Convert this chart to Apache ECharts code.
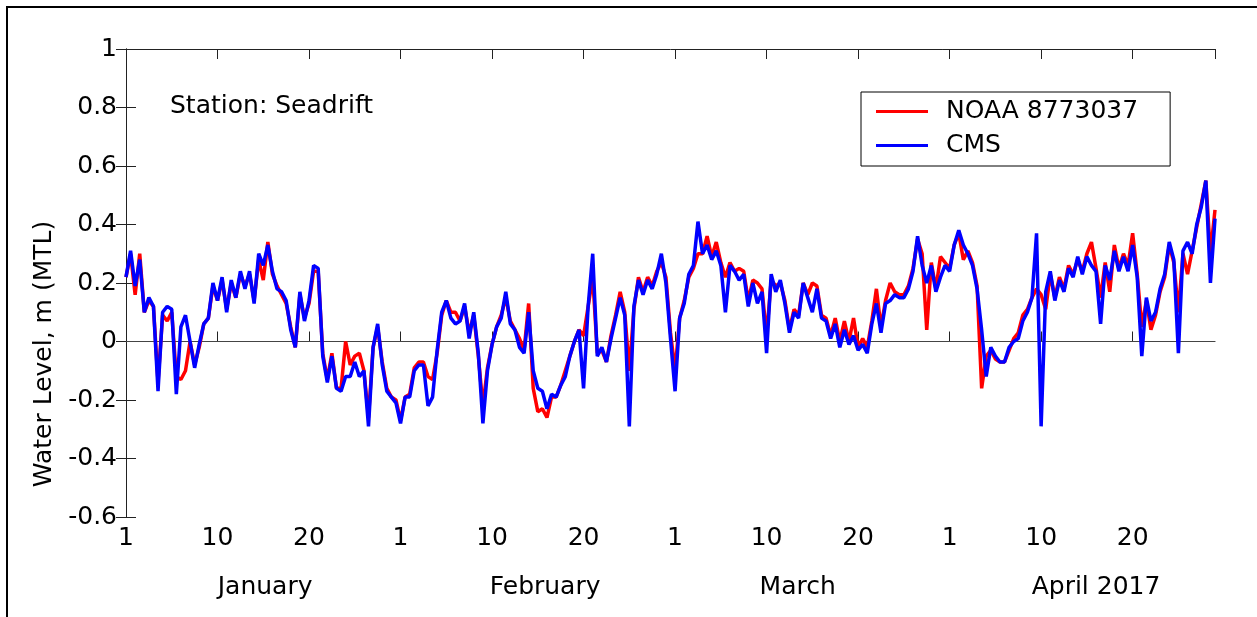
<!DOCTYPE html>
<html>
<head>
<meta charset="utf-8">
<script src="https://cdn.jsdelivr.net/npm/echarts@6/dist/echarts.min.js"></script>
<style>
html,body{margin:0;padding:0;background:#fff;}
#chart{width:1257px;height:617px;}
</style>
</head>
<body>
<div id="chart"></div>
<script>
// ---- data (water level, m MTL), sampled every half day from Jan 1 2017 ----
const STEP_DAYS = 0.5;
const noaa = [
 0.22,0.30,0.16,0.30,0.10,0.14,0.12,-0.14,0.09,0.07,
 0.10,-0.12,-0.13,-0.10,0.00,-0.08,-0.02,0.06,0.08,0.19,
 0.14,0.21,0.11,0.20,0.15,0.23,0.19,0.23,0.14,0.28,
 0.21,0.34,0.23,0.19,0.16,0.13,0.05,-0.02,0.16,0.08,
 0.13,0.24,0.24,-0.04,-0.13,-0.04,-0.16,-0.16,0.00,-0.08,
 -0.05,-0.04,-0.10,-0.26,-0.02,0.05,-0.07,-0.16,-0.19,-0.20,
 -0.27,-0.19,-0.18,-0.09,-0.07,-0.07,-0.12,-0.13,-0.04,0.09,
 0.14,0.10,0.10,0.07,0.12,0.03,0.09,-0.05,-0.22,-0.09,
 -0.01,0.05,0.09,0.15,0.07,0.04,0.01,-0.03,0.13,-0.16,
 -0.24,-0.23,-0.26,-0.19,-0.19,-0.15,-0.10,-0.05,0.00,0.04,
 0.02,0.12,0.22,-0.04,-0.03,-0.07,0.02,0.09,0.17,0.10,
 -0.10,0.11,0.22,0.17,0.22,0.19,0.24,0.27,0.22,0.03,
 -0.10,0.08,0.14,0.22,0.25,0.30,0.30,0.36,0.29,0.34,
 0.27,0.22,0.27,0.24,0.25,0.24,0.14,0.21,0.20,0.18,
 0.02,0.21,0.19,0.20,0.14,0.04,0.11,0.09,0.20,0.16,
 0.20,0.19,0.09,0.08,0.02,0.08,0.00,0.07,0.00,0.08,
 -0.02,0.01,-0.02,0.07,0.18,0.05,0.14,0.20,0.17,0.16,
 0.16,0.19,0.25,0.35,0.30,0.04,0.27,0.18,0.29,0.27,
 0.25,0.33,0.37,0.28,0.31,0.27,0.19,-0.16,-0.05,-0.03,
 -0.06,-0.07,-0.07,-0.03,0.01,0.03,0.09,0.11,0.15,0.18,
 0.16,0.11,0.23,0.15,0.22,0.18,0.26,0.23,0.28,0.24,
 0.30,0.34,0.25,0.15,0.27,0.17,0.33,0.25,0.30,0.26,
 0.37,0.23,0.05,0.14,0.04,0.09,0.17,0.22,0.33,0.27,
 0.10,0.30,0.23,0.31,0.39,0.47,0.55,0.30,0.45
];
const cms = [
 0.22,0.31,0.19,0.28,0.10,0.15,0.12,-0.17,0.10,0.12,
 0.11,-0.18,0.05,0.09,0.00,-0.09,-0.01,0.06,0.08,0.20,
 0.14,0.22,0.10,0.21,0.15,0.24,0.18,0.24,0.13,0.30,
 0.26,0.33,0.24,0.18,0.17,0.14,0.04,-0.02,0.17,0.07,
 0.14,0.26,0.25,-0.05,-0.14,-0.05,-0.16,-0.17,-0.12,-0.12,
 -0.07,-0.12,-0.10,-0.29,-0.02,0.06,-0.08,-0.17,-0.19,-0.21,
 -0.28,-0.19,-0.19,-0.10,-0.08,-0.08,-0.22,-0.19,-0.03,0.10,
 0.14,0.08,0.06,0.07,0.13,0.01,0.10,-0.04,-0.28,-0.10,
 -0.01,0.05,0.08,0.17,0.06,0.04,-0.02,-0.04,0.10,-0.10,
 -0.16,-0.17,-0.23,-0.18,-0.19,-0.15,-0.12,-0.05,0.00,0.04,
 -0.16,0.12,0.30,-0.05,-0.02,-0.07,0.01,0.08,0.15,0.09,
 -0.29,0.12,0.21,0.16,0.21,0.18,0.23,0.30,0.20,0.01,
 -0.17,0.08,0.13,0.23,0.26,0.41,0.30,0.33,0.28,0.31,
 0.26,0.10,0.26,0.24,0.21,0.23,0.12,0.20,0.13,0.17,
 -0.04,0.23,0.17,0.21,0.13,0.03,0.10,0.08,0.20,0.15,
 0.10,0.18,0.08,0.07,0.01,0.06,-0.02,0.04,-0.01,0.02,
 -0.03,-0.01,-0.04,0.06,0.13,0.03,0.13,0.14,0.16,0.15,
 0.15,0.18,0.24,0.36,0.26,0.20,0.26,0.17,0.22,0.26,
 0.24,0.33,0.38,0.33,0.30,0.26,0.18,0.04,-0.12,-0.02,
 -0.05,-0.07,-0.07,-0.02,0.00,0.01,0.07,0.10,0.15,0.37,
 -0.29,0.17,0.24,0.14,0.21,0.17,0.25,0.22,0.29,0.23,
 0.29,0.26,0.24,0.06,0.26,0.21,0.31,0.24,0.29,0.24,
 0.33,0.22,-0.05,0.15,0.07,0.10,0.18,0.23,0.34,0.28,
 -0.04,0.31,0.34,0.30,0.40,0.46,0.55,0.20,0.42
];
const seriesNames = ['NOAA 8773037', 'CMS'];
const xTickLabels = ['1','10','20','1','10','20','1','10','20','1','10','20'];
const yTickLabels = ['-0.6','-0.4','-0.2','0','0.2','0.4','0.6','0.8','1'];
const monthNames = ['January','February','March','April 2017'];
const monthLabelDays = [15.2, 45.8, 73.4, 106];
const X_MIN = 0, X_MAX = 119, X_STEP = 10;
const Y_MIN = -0.6, Y_MAX = 1, Y_STEP = 0.2;

const toPairs = arr => arr.map((v, i) => [i * STEP_DAYS, v]);
const FONT = 'DejaVu Sans';
const axisColor = '#222';

const chart = echarts.init(document.getElementById('chart'), null, {renderer: 'canvas'});
const xTickFmt = v => {
  const k = v / X_STEP;
  return Math.abs(k - Math.round(k)) < 1e-6 ? (xTickLabels[Math.round(k)] || '') : '';
};
const yTickFmt = v => yTickLabels[Math.round((v - Y_MIN) / Y_STEP)] || '';

chart.setOption({
  animation: false,
  backgroundColor: '#fff',
  grid: {left: 126, right: 42, top: 49, bottom: 100},
  legend: {
    data: seriesNames,
    orient: 'vertical',
    left: 861, top: 92,
    backgroundColor: '#fff',
    borderColor: '#000', borderWidth: 1,
    padding: [7, 32, 8, 15],
    icon: 'rect',
    itemWidth: 52, itemHeight: 3, itemGap: 9,
    textStyle: {fontFamily: FONT, fontSize: 25, color: '#000', padding: [0, 0, 0, 13]}
  },
  graphic: [
    {type: 'rect', shape: {x: 7, y: 7, width: 1400, height: 800},
     style: {fill: 'none', stroke: '#000', lineWidth: 2}, silent: true, z: 100},
    {type: 'text', x: 170, y: 106,
     style: {text: 'Station: Seadrift', font: '25px "DejaVu Sans"', fill: '#000',
             textVerticalAlign: 'middle', verticalAlign: 'middle'}, silent: true}
  ],
  xAxis: [
    {type: 'value', min: X_MIN, max: X_MAX, interval: X_STEP, position: 'bottom',
     axisLine: {show: true, lineStyle: {color: axisColor, width: 1}},
     axisTick: {show: true, inside: true, length: 10, lineStyle: {color: axisColor}},
     splitLine: {show: false},
     axisLabel: {formatter: xTickFmt, fontFamily: FONT, fontSize: 25, color: '#000', margin: 9,
                 showMaxLabel: false}},
    {type: 'value', min: X_MIN, max: X_MAX, position: 'bottom',
     axisLine: {show: false}, axisTick: {show: false}, splitLine: {show: false},
     axisLabel: {customValues: monthLabelDays,
                 formatter: v => monthNames[monthLabelDays.indexOf(v)] || '',
                 fontFamily: FONT, fontSize: 25, color: '#000', margin: 58}},
    {type: 'value', min: X_MIN, max: X_MAX, interval: X_STEP, position: 'top',
     axisLine: {show: true, lineStyle: {color: axisColor, width: 1}},
     axisTick: {show: true, inside: true, length: 10, lineStyle: {color: axisColor}},
     axisLabel: {show: false}, splitLine: {show: false}}
  ],
  yAxis: [
    {type: 'value', min: Y_MIN, max: Y_MAX, interval: Y_STEP, position: 'left',
     name: 'Water Level, m (MTL)', nameLocation: 'middle', nameRotate: 90, nameGap: 52,
     nameTextStyle: {fontFamily: FONT, fontSize: 25, color: '#000', padding: [0, 142, 0, 0]},
     axisLine: {show: true, lineStyle: {color: axisColor, width: 1}},
     axisTick: {show: true, inside: true, length: 10, lineStyle: {color: axisColor}},
     splitLine: {show: false},
     axisLabel: {formatter: yTickFmt, fontFamily: FONT, fontSize: 25, color: '#000', margin: 9}},
    {type: 'value', min: Y_MIN, max: Y_MAX, interval: Y_STEP, position: 'right',
     axisLine: {show: true, lineStyle: {color: axisColor, width: 1}},
     axisTick: {show: true, inside: true, length: 10, lineStyle: {color: axisColor}},
     axisLabel: {show: false}, splitLine: {show: false}}
  ],
  series: [
    {name: 'zero', type: 'line', data: [[X_MIN, 0], [X_MAX, 0]], symbol: 'none', silent: true,
     lineStyle: {color: '#444', width: 1.2}, z: 1},
    {name: seriesNames[0], type: 'line', data: toPairs(noaa), symbol: 'none', clip: true,
     lineStyle: {color: '#ff0000', width: 3.5}, itemStyle: {color: '#ff0000'}, z: 2},
    {name: seriesNames[1], type: 'line', data: toPairs(cms), symbol: 'none', clip: true,
     lineStyle: {color: '#0000ff', width: 3.5}, itemStyle: {color: '#0000ff'}, z: 3}
  ]
});
</script>
</body>
</html>
